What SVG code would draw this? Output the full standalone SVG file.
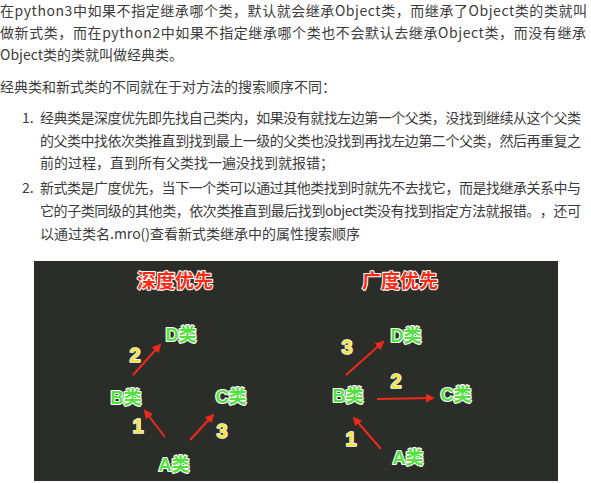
<svg xmlns="http://www.w3.org/2000/svg" width="591" height="483" viewBox="0 0 591 483">
<defs>
<style>
.t{font-family:"Noto Sans CJK SC","Liberation Sans",sans-serif;font-size:14px;fill:#3c3c3c;text-spacing-trim:space-all}
.node{font-family:"Liberation Sans","Noto Sans CJK SC",sans-serif;font-weight:bold;font-size:18px;fill:#52e23c;stroke:#ffffff;stroke-width:2.2px;paint-order:stroke;stroke-linejoin:round;text-anchor:middle}
.num{font-family:"Liberation Sans",sans-serif;font-weight:bold;font-size:20px;fill:#f4e43c;stroke:#ffffff;stroke-width:1.6px;paint-order:stroke;stroke-linejoin:round;text-anchor:middle}
.title{font-family:"Noto Sans CJK SC",sans-serif;font-weight:bold;font-size:19px;fill:#ff2a12;stroke:#ffffff;stroke-width:2.2px;paint-order:stroke;stroke-linejoin:round;text-anchor:middle}
.arr{stroke:#f02a1a;stroke-width:2;fill:none;marker-end:url(#ah)}
</style>
<marker id="ah" viewBox="0 0 10 10" refX="8" refY="5" markerWidth="4.5" markerHeight="4.5" orient="auto" markerUnits="strokeWidth">
<path d="M0,0 L10,5 L0,10 z" fill="#f02a1a"/>
</marker>
</defs>
<rect width="591" height="483" fill="#ffffff"/>
<g id="text">
<text class="t" x="0" y="16" textLength="587" lengthAdjust="spacing">在python3中如果不指定继承哪个类，默认就会继承Object类，而继承了Object类的类就叫</text>
<text class="t" x="0" y="38" textLength="586" lengthAdjust="spacing">做新式类，而在python2中如果不指定继承哪个类也不会默认去继承Object类，而没有继承</text>
<text class="t" x="0" y="60">Object类的类就叫做经典类。</text>
<text class="t" x="0" y="92">经典类和新式类的不同就在于对方法的搜索顺序不同：</text>
<text class="t" x="22" y="123">1.</text>
<text class="t" x="40" y="123" textLength="541" lengthAdjust="spacing">经典类是深度优先即先找自己类内，如果没有就找左边第一个父类，没找到继续从这个父类</text>
<text class="t" x="40" y="146" textLength="541" lengthAdjust="spacing">的父类中找依次类推直到找到最上一级的父类也没找到再找左边第二个父类，然后再重复之</text>
<text class="t" x="40" y="168">前的过程，直到所有父类找一遍没找到就报错；</text>
<text class="t" x="22" y="193">2.</text>
<text class="t" x="40" y="193" textLength="541" lengthAdjust="spacing">新式类是广度优先，当下一个类可以通过其他类找到时就先不去找它，而是找继承关系中与</text>
<text class="t" x="40" y="216" textLength="541" lengthAdjust="spacing">它的子类同级的其他类，依次类推直到最后找到object类没有找到指定方法就报错。，还可</text>
<text class="t" x="40" y="239">以通过类名.mro()查看新式类继承中的属性搜索顺序</text>
</g>
<rect id="panel" x="34" y="261" width="524" height="220" fill="#2b2d28"/>
<g id="connectors">
<line class="arr" x1="133" y1="375" x2="160" y2="345"/>
<line class="arr" x1="165" y1="437" x2="145" y2="411"/>
<line class="arr" x1="190" y1="440" x2="213" y2="415"/>
<line class="arr" x1="346" y1="375" x2="383" y2="342"/>
<line class="arr" x1="377" y1="399" x2="433" y2="398"/>
<line class="arr" x1="381" y1="449" x2="354" y2="418"/>
</g>
<g id="labels">
<text class="title" x="175" y="288">深度优先</text>
<text class="title" x="400" y="288">广度优先</text>
<text class="num" x="135" y="362">2</text>
<text class="num" x="138" y="433">1</text>
<text class="num" x="222" y="438">3</text>
<text class="num" x="347" y="354">3</text>
<text class="num" x="396" y="388">2</text>
<text class="num" x="351" y="446">1</text>
</g>
<g id="L-D"><text class="node" x="181" y="341">D类</text></g>
<g id="L-B"><text class="node" x="126" y="404">B类</text></g>
<g id="L-C"><text class="node" x="231" y="403">C类</text></g>
<g id="L-A"><text class="node" x="174" y="471">A类</text></g>
<g id="R-D"><text class="node" x="406" y="342">D类</text></g>
<g id="R-B"><text class="node" x="348" y="402">B类</text></g>
<g id="R-C"><text class="node" x="456" y="401">C类</text></g>
<g id="R-A"><text class="node" x="408" y="464">A类</text></g>
</svg>
